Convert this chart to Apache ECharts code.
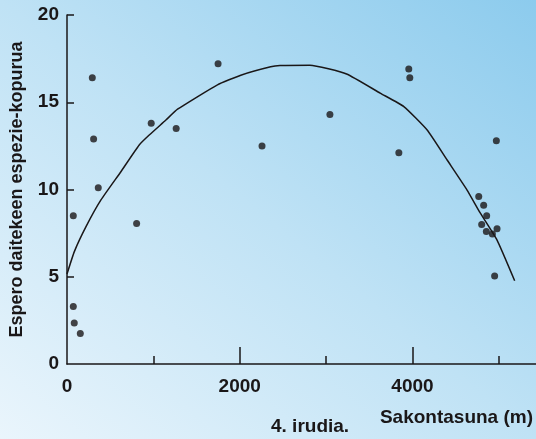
<!DOCTYPE html>
<html>
<head>
<meta charset="utf-8">
<script src="https://cdn.jsdelivr.net/npm/echarts@6/dist/echarts.min.js"></script>
<style>
html, body { margin: 0; padding: 0; }
#chart {
	width: 536px; height: 439px;
	background: linear-gradient(to top right, #eaf5fc 0%, #bfe2f5 50%, #8ccbed 100%);
}
</style>
</head>
<body>
<div id="chart"></div>
<script>
var fontName = "'Liberation Sans', Arial, sans-serif";
var darkColor = '#1a1718';

// neurketak: sakonera (m) eta espezie kopurua
var depthPoints = [293, 308, 362, 73, 975, 1264, 1749, 2258, 3044, 3957, 3969, 3842, 4971,
	4767, 4824, 4859, 4801, 4855, 4925, 4979, 4951, 806, 73, 84, 154];
var speciesPoints = [16.4, 12.9, 10.1, 8.5, 13.8, 13.5, 17.2, 12.5, 14.3, 16.9, 16.4, 12.1, 12.8,
	9.6, 9.1, 8.5, 8.0, 7.6, 7.45, 7.75, 5.05, 8.05, 3.3, 2.35, 1.75];

// kurba
var curveDepth = [0, 85, 220, 393, 624, 836, 952, 1145, 1280, 1742, 2012, 2358, 2466, 2813, 3237,
	3630, 3900, 4170, 4401, 4632, 4786, 4979, 5183];
var curveSpecies = [5.16, 6.44, 7.87, 9.4, 11.02, 12.55, 13.12, 13.98, 14.6, 16.0, 16.55, 17.03, 17.1, 17.12, 16.62,
	15.51, 14.75, 13.41, 11.69, 9.97, 8.64, 7.1, 4.77];

var majorTicks = [2000, 4000];
var minorTicks = [1000, 3000, 5000];
var xLabels = [0, 2000, 4000];
var yTicks = [5, 10, 15, 20];

var scatterData = depthPoints.map(function (d, i) { return [d, speciesPoints[i]]; });
var curveData = curveDepth.map(function (d, i) { return [d, curveSpecies[i]]; });

var chart = echarts.init(document.getElementById('chart'));
chart.setOption({
	animation: false,
	grid: { left: 66, right: 0, top: 15, bottom: 75 },
	xAxis: [{
		type: 'value', min: 0, max: 5430,
		axisLine: { show: true, onZero: false, lineStyle: { color: darkColor, width: 1.5 } },
		axisTick: { show: true, inside: true, length: 17, customValues: majorTicks, lineStyle: { color: darkColor, width: 1.5 } },
		axisLabel: {
			customValues: xLabels, margin: 13,
			formatter: function (v) { return String(v); },
			color: darkColor, fontFamily: fontName, fontWeight: 'bold', fontSize: 19
		},
		splitLine: { show: false }
	}, {
		type: 'value', min: 0, max: 5430, position: 'bottom',
		axisLine: { show: false },
		axisTick: { show: true, inside: true, length: 8, customValues: minorTicks, lineStyle: { color: darkColor, width: 1.5 } },
		axisLabel: { show: false },
		splitLine: { show: false }
	}],
	yAxis: {
		type: 'value', min: 0, max: 20, interval: 5,
		name: 'Espero daitekeen espezie-kopurua',
		nameLocation: 'middle', nameRotate: 90, nameGap: 41,
		nameTextStyle: { color: darkColor, fontFamily: fontName, fontWeight: 'bold', fontSize: 18 },
		axisLine: { show: true, lineStyle: { color: darkColor, width: 1.5 } },
		axisTick: { show: true, inside: true, length: 7, customValues: yTicks, lineStyle: { color: darkColor, width: 1.5 } },
		axisLabel: { margin: 8, color: darkColor, fontFamily: fontName, fontWeight: 'bold', fontSize: 19 },
		splitLine: { show: false }
	},
	graphic: [{
		type: 'text', right: 3, top: 408,
		style: { text: 'Sakontasuna (m)', fill: darkColor, font: 'bold 19px ' + fontName }
	}, {
		type: 'text', left: 271, top: 417,
		style: { text: '4. irudia.', fill: darkColor, font: 'bold 19px ' + fontName }
	}],
	series: [{
		type: 'line', data: curveData, showSymbol: false, smooth: 0.15,
		lineStyle: { color: darkColor, width: 1.5 }
	}, {
		type: 'scatter', data: scatterData, symbolSize: 7,
		itemStyle: { color: darkColor }
	}]
});
</script>
</body>
</html>
